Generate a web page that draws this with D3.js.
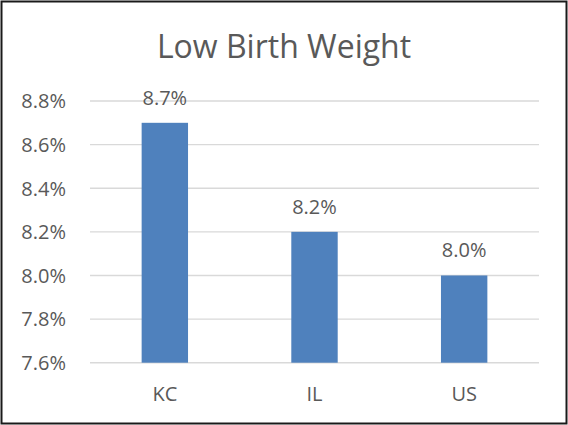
<!DOCTYPE html>
<html>
<head>
<meta charset="utf-8">
<script src="https://cdn.jsdelivr.net/npm/d3@7"></script>
<style>
  body { margin: 0; background: #fff; }
  text { font-family: "Open Sans", sans-serif; fill: #595959; }
</style>
</head>
<body>
<div id="chart"></div>
<script>
// chart data
const categories = ['KC', 'IL', 'US'];
const values = [8.7, 8.2, 8.0];
const tickValues = [7.6, 7.8, 8.0, 8.2, 8.4, 8.6, 8.8];

const width = 568, height = 425;
const margin = { top: 101, right: 29, bottom: 62, left: 90 };

const svg = d3.select('#chart')
    .append('svg')
    .attr('width', width)
    .attr('height', height);

svg.append('rect')
    .attr('x', 1.5).attr('y', 1.5)
    .attr('width', width - 3).attr('height', height - 3)
    .attr('fill', '#fff')
    .attr('stroke', '#1a1a1a')
    .attr('stroke-width', 2);

const x = d3.scaleBand()
    .domain(categories)
    .range([margin.left, width - margin.right]);

const y = d3.scaleLinear()
    .domain([7.6, 8.8])
    .range([height - margin.bottom - 0.3, margin.top]);

// title
svg.append('text')
    .attr('x', 284)
    .attr('y', 58)
    .attr('text-anchor', 'middle')
    .style('font-size', '32px')
    .text('Low Birth Weight');

// gridlines
svg.append('g')
    .selectAll('line')
    .data(tickValues)
    .enter()
    .append('line')
    .attr('x1', margin.left)
    .attr('x2', width - margin.right)
    .attr('y1', d => y(d))
    .attr('y2', d => y(d))
    .attr('stroke', '#d9d9d9')
    .attr('stroke-width', 1.4);

// y tick labels
svg.append('g')
    .selectAll('text')
    .data(tickValues)
    .enter()
    .append('text')
    .attr('x', margin.left - 24)
    .attr('y', d => y(d) + 7.3)
    .attr('text-anchor', 'end')
    .style('font-size', '20px')
    .text(d => d.toFixed(1) + '%');

// bars
const barW = x.bandwidth() * 0.31;
svg.append('g')
    .selectAll('rect')
    .data(values)
    .enter()
    .append('rect')
    .attr('x', (d, i) => x(categories[i]) + (x.bandwidth() - barW) / 2)
    .attr('y', d => y(d))
    .attr('width', barW)
    .attr('height', d => y(7.6) - y(d))
    .attr('fill', '#4f81bd');

// data labels
svg.append('g')
    .selectAll('text')
    .data(values)
    .enter()
    .append('text')
    .attr('x', (d, i) => x(categories[i]) + x.bandwidth() / 2)
    .attr('y', d => y(d) - 18)
    .attr('text-anchor', 'middle')
    .style('font-size', '20px')
    .text(d => d.toFixed(1) + '%');

// category labels
svg.append('g')
    .selectAll('text')
    .data(categories)
    .enter()
    .append('text')
    .attr('x', d => x(d) + x.bandwidth() / 2)
    .attr('y', y(7.6) + 38)
    .attr('text-anchor', 'middle')
    .style('font-size', '20px')
    .text(d => d);
</script>
</body>
</html>
